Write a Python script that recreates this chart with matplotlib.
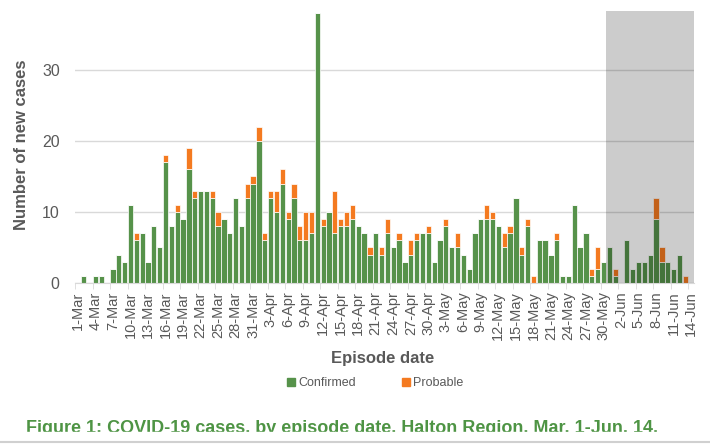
import numpy as np
import pandas as pd
import matplotlib
matplotlib.use("Agg")
import matplotlib.pyplot as plt
from matplotlib.patches import Rectangle

plt.rcParams['font.family'] = ['Liberation Sans', 'DejaVu Sans']

# daily counts, 1-Mar to 14-Jun
confirmed = [0, 1, 0, 1, 1, 0, 2, 4, 3, 11,
             6, 7, 3, 8, 5, 17, 8, 10, 9, 16,
             12, 13, 13, 12, 8, 9, 7, 12, 8, 12,
             14, 20, 6, 12, 10, 14, 9, 12, 6, 6,
             7, 38, 8, 10, 7, 8, 8, 9, 8, 7,
             4, 7, 4, 7, 5, 6, 3, 4, 6, 7,
             7, 3, 6, 8, 5, 5, 4, 2, 7, 9,
             9, 9, 8, 5, 7, 12, 4, 8, 0, 6,
             6, 4, 6, 1, 1, 11, 5, 7, 1, 2,
             3, 5, 1, 0, 6, 2, 3, 3, 4, 9,
             3, 3, 2, 4, 0, 0]
probable = [0, 0, 0, 0, 0, 0, 0, 0, 0, 0,
            1, 0, 0, 0, 0, 1, 0, 1, 0, 3,
            1, 0, 0, 1, 2, 0, 0, 0, 0, 2,
            1, 2, 1, 1, 3, 2, 1, 2, 2, 4,
            3, 0, 1, 0, 6, 1, 2, 2, 0, 0,
            1, 0, 1, 2, 0, 1, 0, 2, 1, 0,
            1, 0, 0, 1, 0, 2, 0, 0, 0, 0,
            2, 1, 0, 2, 1, 0, 1, 1, 1, 0,
            0, 0, 1, 0, 0, 0, 0, 0, 1, 3,
            0, 0, 1, 0, 0, 0, 0, 0, 0, 3,
            2, 0, 0, 0, 1, 0]
dates = pd.date_range("2020-03-01", "2020-06-14")
labels = [f"{d.day}-{d.strftime('%b')}" for d in dates]
shade_from = "2020-05-31"

green = "#56924A"
orange = "#F47A20"
txt = "#595959"

fig = plt.figure(figsize=(7.1, 4.44), dpi=100)
ax = fig.add_axes([75/710, 1-283/444, 619/710, 272/444])

x = np.arange(len(dates))
ax.bar(x, confirmed, width=0.9, color=green, edgecolor="white", linewidth=0.5, zorder=2)
ax.bar(x, probable, bottom=confirmed, width=0.9, color=orange, edgecolor="white", linewidth=0.5, zorder=2)

s = list(dates).index(pd.Timestamp(shade_from))
ax.axvspan(s - 0.5, len(dates) - 0.5, color="black", alpha=0.2, linewidth=0, zorder=3)

ax.set_xlim(-0.5, len(dates) - 0.5)
ax.set_ylim(0, 38.3)
ax.set_yticks([0, 10, 20, 30])
ax.yaxis.grid(True, color="#D9D9D9", linewidth=1, zorder=0)
ax.set_axisbelow(True)
for sp in ["left", "right", "top"]:
    ax.spines[sp].set_visible(False)
ax.spines["bottom"].set_color("#D9D9D9")
ax.tick_params(axis="y", length=0, pad=11, labelsize=11.5, labelcolor=txt)

ax.set_xticks(x[::3])
ax.set_xticklabels(labels[::3], rotation=90)
ax.set_xticks(x[::3] - 0.5, minor=True)
ax.tick_params(axis="x", which="major", length=0, pad=6, labelsize=10.5, labelcolor=txt)
ax.tick_params(axis="x", which="minor", length=4, color="#D9D9D9")

fig.text(22/710, 1-145/444, "Number of new cases", rotation=90, ha="center", va="center",
         fontsize=12, fontweight="bold", color=txt)
fig.text(383/710, 1-358/444, "Episode date", ha="center", va="center",
         fontsize=12, fontweight="bold", color=txt)

h1 = plt.Line2D([], [], marker="s", linestyle="", color=green, markersize=6)
h2 = plt.Line2D([], [], marker="s", linestyle="", color=orange, markersize=6)
fig.legend([h1, h2], ["Confirmed", "Probable"], loc="center", bbox_to_anchor=(374/710, 1-383/444),
           ncol=2, frameon=False, fontsize=9, handletextpad=0.1, columnspacing=3.5,
           labelcolor=txt, handlelength=1)

fig.text(342/710, 1-433/444, "Figure 1: COVID-19 cases, by episode date, Halton Region, Mar. 1-Jun. 14.",
         ha="center", va="baseline", fontsize=13, fontweight="bold", color="#4E9444")
# caption is cropped at the bottom in the original
fig.patches.append(Rectangle((0, 0), 1, 1-432/444, transform=fig.transFigure, color="white", zorder=5))
fig.lines.append(plt.Line2D([0, 1], [1-442/444, 1-442/444], transform=fig.transFigure,
                            color="#D0D0D0", linewidth=1.5, zorder=6))

fig.savefig("out.png", dpi=100)
